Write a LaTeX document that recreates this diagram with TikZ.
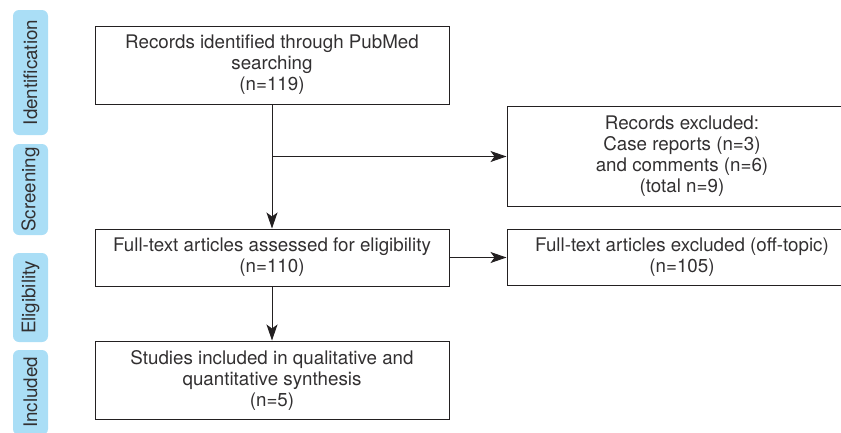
\documentclass[tikz,border=0pt]{standalone}
\usepackage{fontspec}
\setmainfont{TeX Gyre Heros}
\usetikzlibrary{positioning,arrows.meta}
\definecolor{bandblue}{RGB}{170,222,246}
\definecolor{inkgray}{RGB}{35,32,33}
\definecolor{textgray}{RGB}{50,48,49}

\begin{document}
\begin{tikzpicture}[->,>={Stealth[length=16pt,width=11pt,inset=4pt]},
                    x=1pt,y=-1pt,line width=1pt,color=inkgray,
                    font=\fontsize{18.75}{21}\selectfont]
  \tikzstyle{box}=[draw,rectangle,align=center,inner sep=2pt,text=textgray]
  \tikzstyle{mainbox}=[box,minimum width=354pt]
  \tikzstyle{sidebox}=[box,minimum width=350pt]
  \tikzstyle{band}=[fill=bandblue,rounded corners=6pt,rotate=90,text=textgray,
                    minimum height=35pt,inner sep=0pt]

  \useasboundingbox (0,0) rectangle (841,432);
  \clip (0,0) rectangle (841,432);

  \node[band,minimum width=125pt] (ident)  at (30.5,72.5)  {Identification};
  \node[band,minimum width=91pt]  (screen) at (30.5,189.5) {Screening};
  \node[band,minimum width=89pt]  (elig)   at (30.5,297.5) {Eligibility};
  \node[band,minimum width=85pt]  (incl)   at (30.5,392.5) {Included};

  \node[mainbox,minimum height=78pt] (records) at (272,65)
       {Records identified through PubMed\\searching\\(n=119)};
  \node[mainbox,minimum height=57pt] (fulltext) [below=124pt of records]
       {Full-text articles assessed for eligibility\\(n=110)};
  \node[mainbox,minimum height=78pt] (studies)  [below=54pt of fulltext]
       {Studies included in qualitative and\\quantitative synthesis\\(n=5)};
  \node[sidebox,minimum height=56pt] (offtopic) [right=57pt of fulltext]
       {Full-text articles excluded (off-topic)\\(n=105)};
  \node[sidebox,minimum height=100pt] (excluded) [above=22pt of offtopic]
       {Records excluded:\\Case reports (n=3)\\and comments (n=6)\\(total n=9)};

  \coordinate (split) at (records.south |- excluded.west);

  \draw (records.south) -- (fulltext.north);
  \draw (split) -- (excluded.west);
  \draw (fulltext) -- (offtopic);
  \draw (fulltext) -- (studies);
\end{tikzpicture}
\end{document}
